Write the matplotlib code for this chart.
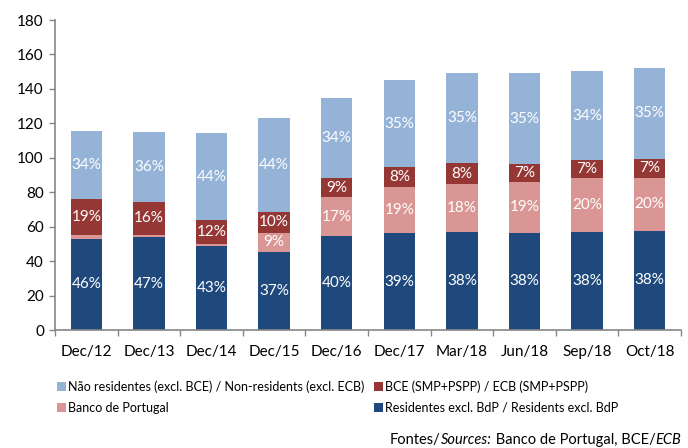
import numpy as np
import matplotlib.pyplot as plt
from matplotlib.patches import Patch

plt.rcParams['font.family'] = ['Lato', 'DejaVu Sans']

# values (EUR bn, stacked)
categories = ['Dec/12', 'Dec/13', 'Dec/14', 'Dec/15', 'Dec/16',
              'Dec/17', 'Mar/18', 'Jun/18', 'Sep/18', 'Oct/18']
residents = [53.1, 54.0, 48.6, 45.2, 54.4, 56.2, 57.1, 56.6, 57.1, 57.5]
bdp = [1.9, 1.4, 1.2, 11.4, 22.6, 27.0, 27.8, 29.1, 30.9, 30.9]
ecb = [20.8, 18.7, 13.9, 11.9, 11.4, 11.2, 11.8, 10.4, 10.6, 10.8]
nonres = [39.6, 40.7, 50.6, 54.8, 46.5, 50.8, 52.7, 52.9, 51.8, 53.1]

lab_res = ['46%', '47%', '43%', '37%', '40%', '39%', '38%', '38%', '38%', '38%']
lab_bdp = ['', '', '', '9%', '17%', '19%', '18%', '19%', '20%', '20%']
lab_ecb = ['19%', '16%', '12%', '10%', '9%', '8%', '8%', '7%', '7%', '7%']
lab_non = ['34%', '36%', '44%', '44%', '34%', '35%', '35%', '35%', '34%', '35%']

names = ['Residentes excl. BdP / Residents excl. BdP',
         'Banco de Portugal',
         'BCE (SMP+PSPP) / ECB (SMP+PSPP)',
         'Não residentes (excl. BCE) / Non-residents (excl. ECB)']
COLORS = ['#1F497D', '#D99694', '#953735', '#95B3D7']

source_parts = [('Fontes/', 'normal'), ('Sources:', 'italic'),
                (' Banco de Portugal, BCE/', 'normal'), ('ECB', 'italic')]

FIG = plt.figure(figsize=(6.88, 4.48), dpi=100)
ax = FIG.add_axes([55/688, 1 - 330/448, 626/688, 310/448])

x = np.arange(len(categories))
series = [residents, bdp, ecb, nonres]
labels = [lab_res, lab_bdp, lab_ecb, lab_non]
bottom = np.zeros(len(categories))
handles = []
for vals, labs, col, name in zip(series, labels, COLORS, names):
    vals = np.array(vals)
    ax.bar(x, vals, 0.5, bottom=bottom, color=col, edgecolor='none')
    for xi, b, v, t in zip(x, bottom, vals, labs):
        if t:
            ax.text(xi, b + v / 2, t, ha='center', va='center',
                    color='white', fontsize=11)
    handles.append(Patch(facecolor=col, label=name))
    bottom += vals

ax.set_xlim(-0.5, len(categories) - 0.5)
ax.set_ylim(0, 180)
ax.set_yticks(np.arange(0, 181, 20))
ax.set_xticks(np.arange(-0.5, len(categories)), minor=False)
ax.set_xticklabels([])
ax.set_xticks(x, minor=True)
ax.set_xticklabels(categories, minor=True)
ax.tick_params(axis='x', which='major', direction='out', length=4,
               color='#868686', width=1)
ax.tick_params(axis='x', which='minor', length=0, pad=11, labelsize=11)
ax.tick_params(axis='y', direction='out', length=4, color='#868686',
               width=1, labelsize=11, pad=4)
for s in ['top', 'right']:
    ax.spines[s].set_visible(False)
for s in ['left', 'bottom']:
    ax.spines[s].set_color('#868686')
    ax.spines[s].set_linewidth(1.2)

kw = dict(loc='upper left', frameon=False, fontsize=9, handlelength=0.7,
          handleheight=0.7, handletextpad=0.2, labelspacing=0.75,
          borderaxespad=0, borderpad=0)
FIG.legend([handles[3], handles[1]], [names[3], names[1]],
           bbox_to_anchor=(57/688, 1 - 380/448), **kw)
FIG.legend([handles[2], handles[0]], [names[2], names[0]],
           bbox_to_anchor=(374/688, 1 - 380/448), **kw)

# source line, pieces laid out left to right
renderer = FIG.canvas.get_renderer()
xpos = 390
for txt, st in source_parts:
    t = FIG.text(xpos / 688, 1 - 444/448, txt, style=st, fontsize=10.5,
                 va='baseline', ha='left')
    xpos += t.get_window_extent(renderer).width

FIG.savefig('out.png', dpi=100)
